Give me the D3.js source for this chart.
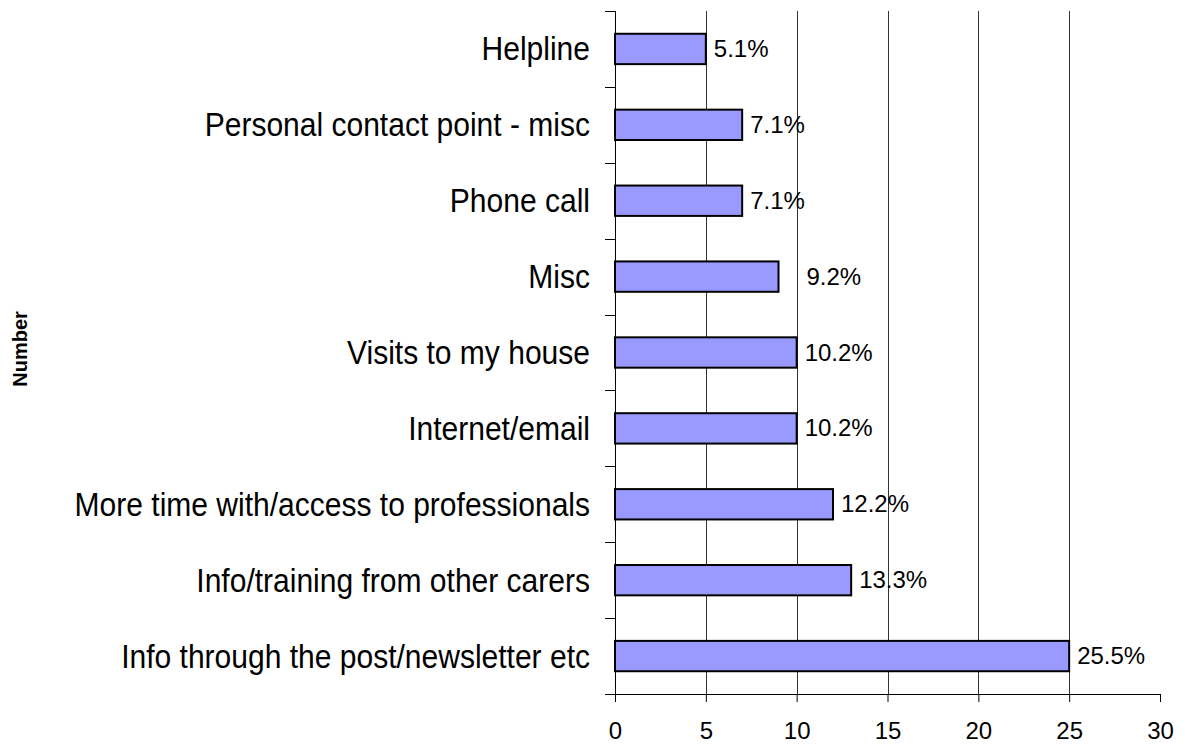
<!DOCTYPE html>
<html>
<head>
<meta charset="utf-8">
<script src="https://cdn.jsdelivr.net/npm/d3@7"></script>
<style>
  html, body { margin: 0; padding: 0; background: #fff; }
  svg { display: block; font-family: "Liberation Sans", Arial, sans-serif; }
</style>
</head>
<body>
<svg id="chart" width="1187" height="751"></svg>
<script>
// Categories, top to bottom
const categories = [
  "Helpline",
  "Personal contact point - misc",
  "Phone call",
  "Misc",
  "Visits to my house",
  "Internet/email",
  "More time with/access to professionals",
  "Info/training from other carers",
  "Info through the post/newsletter etc"
];
// Number of responses per category
const counts = [5, 7, 7, 9, 10, 10, 12, 13, 25];
// Share of all responses, as printed beside each bar
const percentLabels = ["5.1%", "7.1%", "7.1%", "9.2%", "10.2%", "10.2%", "12.2%", "13.3%", "25.5%"];
// X axis ticks
const xTicks = [0, 5, 10, 15, 20, 25, 30];

const svg = d3.select("#chart");
const plot = { left: 615, right: 1160, top: 11, bottom: 694 };

const x = d3.scaleLinear().domain([0, 30]).range([plot.left, plot.right]);
const y = d3.scaleBand()
  .domain(categories)
  .range([plot.top, plot.bottom])
  .paddingInner(0.6)
  .paddingOuter(0.3);
const step = y.step();

// Vertical gridlines
svg.append("g")
  .selectAll("line")
  .data(xTicks.filter(t => t > 0 && t < 30))
  .join("line")
  .attr("x1", d => Math.round(x(d)) + 0.5)
  .attr("x2", d => Math.round(x(d)) + 0.5)
  .attr("y1", plot.top)
  .attr("y2", plot.bottom)
  .attr("stroke", "#333")
  .attr("stroke-width", 1);

// Bars
svg.append("g")
  .selectAll("rect")
  .data(categories)
  .join("rect")
  .attr("x", x(0))
  .attr("y", d => y(d))
  .attr("width", (d, i) => x(counts[i]) - x(0))
  .attr("height", y.bandwidth())
  .attr("fill", "#9999ff")
  .attr("stroke", "#000")
  .attr("stroke-width", 2);

// Bottom axis
const xAxis = d3.axisBottom(x)
  .tickValues(xTicks)
  .tickSize(8)
  .tickPadding(20)
  .tickSizeOuter(0);
const gx = svg.append("g")
  .attr("transform", `translate(0,${plot.bottom})`)
  .call(xAxis);
gx.select(".domain").remove();
gx.selectAll(".tick line").attr("stroke", "#000");
gx.selectAll(".tick text")
  .attr("font-size", 24)
  .attr("font-family", "Liberation Sans, Arial, sans-serif")
  .attr("fill", "#000");
gx.append("line")
  .attr("x1", plot.left - 10)
  .attr("x2", plot.right)
  .attr("y1", 0.5)
  .attr("y2", 0.5)
  .attr("stroke", "#000");

// Left axis: line with ticks at category boundaries
const boundaries = d3.range(categories.length + 1).map(i => plot.top + i * step);
const gy = svg.append("g");
gy.append("line")
  .attr("x1", plot.left + 0.5)
  .attr("x2", plot.left + 0.5)
  .attr("y1", plot.top)
  .attr("y2", plot.bottom)
  .attr("stroke", "#000");
gy.selectAll("line.bnd")
  .data(boundaries)
  .join("line")
  .attr("class", "bnd")
  .attr("x1", plot.left - 10)
  .attr("x2", plot.left)
  .attr("y1", d => Math.round(d) + 0.5)
  .attr("y2", d => Math.round(d) + 0.5)
  .attr("stroke", "#000");

// Category labels (slightly condensed type)
svg.append("g")
  .selectAll("text")
  .data(categories)
  .join("text")
  .attr("transform", d => `translate(590,${y(d) + y.bandwidth() / 2 + 11.5}) scale(0.91,1)`)
  .attr("text-anchor", "end")
  .attr("font-size", 33)
  .attr("fill", "#000")
  .text(d => d);

// Percentage labels beside bars
const labelNudge = { "Misc": 20 };
svg.append("g")
  .selectAll("text")
  .data(categories)
  .join("text")
  .attr("x", (d, i) => x(counts[i]) + 8 + (labelNudge[d] || 0))
  .attr("y", d => y(d) + y.bandwidth() / 2 + 8)
  .attr("font-size", 24)
  .attr("fill", "#000")
  .text((d, i) => percentLabels[i]);

// Axis title
svg.append("text")
  .attr("transform", "translate(27,349) rotate(-90)")
  .attr("text-anchor", "middle")
  .attr("font-size", 20)
  .attr("font-weight", "bold")
  .attr("fill", "#000")
  .text("Number");
</script>
</body>
</html>
